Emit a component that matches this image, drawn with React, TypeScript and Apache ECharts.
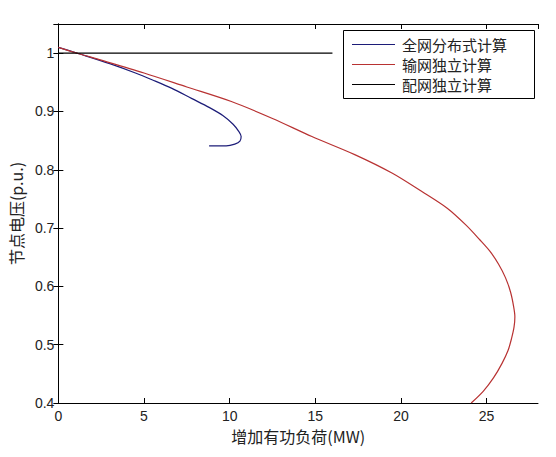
import React, { useEffect, useRef } from "react";
import * as echarts from "echarts";

const seriesNames = ["全网分布式计算", "输网独立计算", "配网独立计算"];

// [增加有功负荷 (MW), 节点电压 (p.u.)]
const distributedCurve: [number, number][] = [
  [0, 1.01], [1.2, 0.999], [3, 0.982], [4.5, 0.966], [5.5, 0.954], [6.6, 0.94],
  [7.8, 0.922], [8.8, 0.907], [9.6, 0.893], [10.2, 0.878], [10.55, 0.865],
  [10.67, 0.857], [10.6, 0.849], [10.3, 0.844], [9.8, 0.841], [8.8, 0.841],
];

const transmissionCurve: [number, number][] = [
  [0, 1.01], [1.2, 0.999], [2.5, 0.988], [5, 0.966], [7.5, 0.942], [10.1, 0.917],
  [12.5, 0.888], [14.8, 0.857], [17.3, 0.826], [19.5, 0.794], [21.2, 0.763],
  [22.7, 0.734], [23.8, 0.705], [24.6, 0.68], [25.2, 0.66], [25.7, 0.638],
  [26.1, 0.615], [26.4, 0.59], [26.58, 0.565], [26.65, 0.548], [26.6, 0.53],
  [26.45, 0.51], [26.25, 0.49], [25.9, 0.468], [25.4, 0.443], [24.8, 0.42],
  [24.1, 0.4],
];

const distributionCurve: [number, number][] = [
  [0, 1.0], [16, 1.0],
];

const xMin = 0, xMax = 28, xStep = 5;
const yMin = 0.4, yMax = 1.05, yStep = 0.1;

const colors = ["#1c1c78", "#b83232", "#000000"];

export default function App() {
  const ref = useRef<HTMLDivElement>(null);
  useEffect(() => {
    if (!ref.current) return;
    const chart = echarts.init(ref.current, undefined, { renderer: "svg" });
    const labelFont = { fontFamily: "Liberation Sans", fontSize: 14, color: "#222" };
    const tickStyle = { show: true, inside: true, length: 5, lineStyle: { color: "#000", width: 1 } };
    const axisLine = { show: true, lineStyle: { color: "#000", width: 1 } };
    chart.setOption({
      animation: false,
      backgroundColor: "#ffffff",
      grid: { left: 56, right: 18, top: 24, bottom: 54, containLabel: false },
      legend: {
        orient: "vertical",
        left: 352,
        top: 37,
        padding: 0,
        icon: "rect",
        itemWidth: 43,
        itemHeight: 1.2,
        itemGap: 5,
        data: seriesNames,
        textStyle: {
          fontFamily: "Noto Sans CJK SC",
          fontSize: 15,
          lineHeight: 15,
          color: "#222",
          padding: [0, 0, 0, 2],
        },
      },
      graphic: [
        {
          type: "rect",
          shape: { x: 343.5, y: 30.5, width: 191, height: 68 },
          style: { fill: "none", stroke: "#000", lineWidth: 1 },
          z: 1,
        },
      ],
      xAxis: [
        {
          type: "value",
          min: xMin,
          max: xMax,
          interval: xStep,
          position: "bottom",
          name: "增加有功负荷(MW)",
          nameLocation: "middle",
          nameGap: 25,
          nameTextStyle: { fontFamily: "Noto Sans CJK SC", fontSize: 16, color: "#222" },
          axisLine,
          axisTick: tickStyle,
          axisLabel: { ...labelFont, margin: 6, showMaxLabel: false },
          splitLine: { show: false },
        },
        {
          type: "value",
          min: xMin,
          max: xMax,
          interval: xStep,
          position: "top",
          axisLine,
          axisTick: tickStyle,
          axisLabel: { show: false },
          splitLine: { show: false },
        },
      ],
      yAxis: [
        {
          type: "value",
          min: yMin,
          max: yMax,
          interval: yStep,
          position: "left",
          name: "节点电压(p.u.)",
          nameLocation: "middle",
          nameGap: 33,
          nameTextStyle: { fontFamily: "Noto Sans CJK SC", fontSize: 16, color: "#222" },
          axisLine,
          axisTick: tickStyle,
          axisLabel: { ...labelFont, margin: 4, showMaxLabel: false },
          splitLine: { show: false },
        },
        {
          type: "value",
          min: yMin,
          max: yMax,
          interval: yStep,
          position: "right",
          axisLine,
          axisTick: tickStyle,
          axisLabel: { show: false },
          splitLine: { show: false },
        },
      ],
      series: [
        {
          name: seriesNames[0],
          type: "line",
          data: distributedCurve,
          symbol: "none",
          smooth: 0.3,
          lineStyle: { color: colors[0], width: 1.2 },
          itemStyle: { color: colors[0] },
        },
        {
          name: seriesNames[1],
          type: "line",
          data: transmissionCurve,
          symbol: "none",
          smooth: 0.3,
          lineStyle: { color: colors[1], width: 1.2 },
          itemStyle: { color: colors[1] },
        },
        {
          name: seriesNames[2],
          type: "line",
          data: distributionCurve,
          symbol: "none",
          lineStyle: { color: colors[2], width: 1.2 },
          itemStyle: { color: colors[2] },
        },
      ],
    });
    return () => chart.dispose();
  }, []);
  return (
    <div
      ref={ref}
      style={{ position: "fixed", left: 0, top: 0, width: 556, height: 457, background: "#fff" }}
    />
  );
}
